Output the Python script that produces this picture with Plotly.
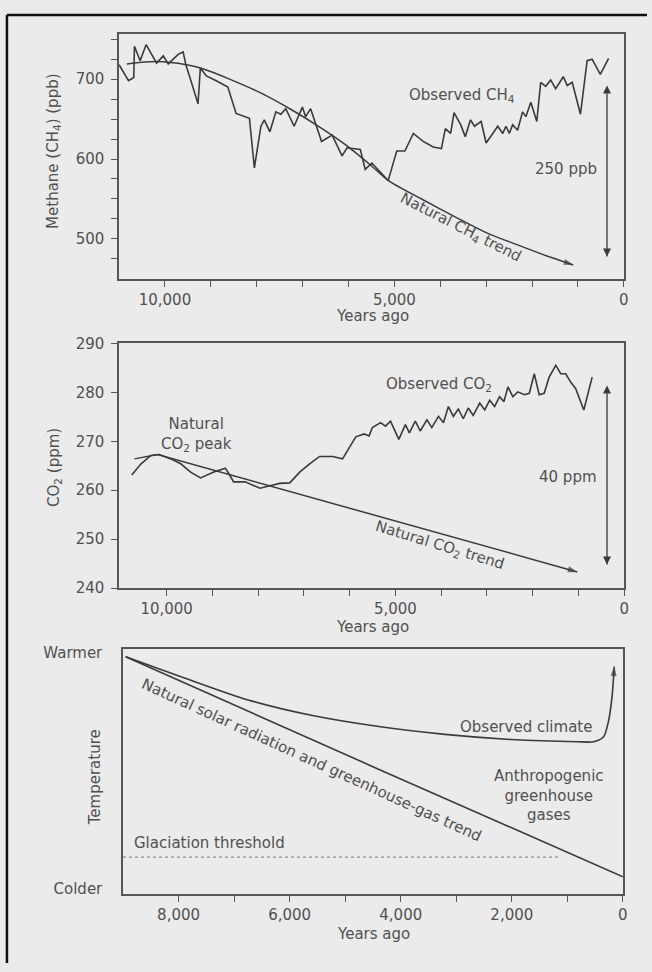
import plotly.graph_objects as go

W, H = 652, 972

# ---------------- data ----------------
# Methane (top panel): years ago / ppb
ch4_obs_years = [11000, 10795, 10680, 10665, 10541, 10411, 10182, 10037, 9929, 9712,
                 9604, 9545, 9424, 9280, 9229, 9099, 8883, 8630, 8450, 8160,
                 8052, 7909, 7835, 7714, 7584, 7476, 7368, 7186, 7006, 6935,
                 6826, 6588, 6357, 6141, 6032, 5744, 5636, 5491, 5136, 4950,
                 4771, 4589, 4373, 4156, 3976, 3890, 3775, 3701, 3557, 3457,
                 3342, 3255, 3110, 3002, 2857, 2749, 2640, 2569, 2497, 2424,
                 2316, 2208, 2136, 2028, 1898, 1812, 1703, 1595, 1487, 1415,
                 1320, 1234, 1126, 946, 801, 693, 513, 333]
ch4_obs_ppb = [718, 698, 702, 741, 723, 743, 720, 729, 719, 731,
               734, 718, 696, 669, 714, 704, 698, 690, 657, 651,
               589, 641, 649, 634, 659, 656, 663, 641, 665, 653,
               663, 622, 630, 604, 614, 612, 587, 595, 573, 610,
               610, 632, 622, 615, 613, 638, 632, 658, 643, 628,
               649, 641, 647, 620, 632, 641, 632, 641, 632, 643,
               636, 659, 653, 671, 647, 696, 691, 699, 688, 695,
               703, 692, 696, 656, 723, 725, 706, 726]
ch4_trend_years = [10830, 10182, 9532, 9208, 8593, 7872, 7223, 6645, 6069,
                   5491, 5130, 4409, 3688, 2965, 2244, 1595, 1104]
ch4_trend_ppb = [719, 722, 718, 713.5, 700, 681.5, 661, 640.5, 618,
                 591, 573, 550, 528, 507, 491, 477, 467.5]

# Carbon dioxide (middle panel): years ago / ppm
co2_obs_years = [10763, 10560, 10343, 10163, 9909, 9692, 9476, 9259, 8971, 8717,
                 8624, 8537, 8284, 7959, 7742, 7525, 7309, 7092, 6875, 6659,
                 6371, 6154, 6009, 5866, 5684, 5575, 5504, 5324, 5216, 5107,
                 4925, 4782, 4695, 4565, 4457, 4312, 4204, 4059, 3950, 3842,
                 3733, 3625, 3517, 3408, 3300, 3157, 3048, 2940, 2832, 2724,
                 2628, 2542, 2433, 2325, 2181, 2074, 1965, 1857, 1749, 1640,
                 1495, 1387, 1278, 1170, 1062, 882, 700]
co2_obs_ppm = [263.1, 265.4, 267.1, 267.3, 266.4, 265.4, 263.7, 262.5, 263.7, 264.5,
               263.1, 261.7, 261.7, 260.4, 260.9, 261.4, 261.5, 263.7, 265.4, 266.9,
               266.9, 266.4, 268.7, 270.9, 271.5, 271.1, 272.8, 273.8, 273.1, 274.1,
               270.4, 273.4, 271.7, 274.1, 272.1, 274.4, 272.8, 275.1, 273.8, 277.1,
               275.1, 276.6, 274.6, 276.8, 275.3, 277.8, 276.4, 278.4, 277.1, 279.1,
               278.1, 281.1, 279.1, 280.1, 279.5, 279.8, 283.8, 279.5, 279.8, 283.1,
               285.5, 283.8, 283.8, 282.1, 280.8, 276.4, 283.1]
co2_trend_years = [10704, 10199, 1025]
co2_trend_ppm = [266.4, 267.3, 243.3]

# Temperature (bottom panel): years ago / relative level (0 = colder, 100 = warmer)
temp_trend_years = [8953, 4400, 0]
temp_trend_level = [96.9, 51.0, 7.0]
temp_obs_years = [8953, 7970, 6780, 5588, 4396, 3206, 2014, 822, 525, 347, 257, 197, 155]
temp_obs_level = [96.9, 88.9, 79.5, 72.9, 68.4, 65.2, 63.1, 62.2, 62.2, 64.2, 70.8, 80.2, 92.9]
glaciation_years = [9000, 1150]
glaciation_level = [15.1, 15.1]

# scale bars: years ago, [low, high]
ch4_bar_year = 368
ch4_bar_span = [478, 692]
co2_bar_year = 375
co2_bar_span = [244.8, 281.4]

# ticks
ch4_major = [500, 600, 700]
ch4_major_labels = ["500", "600", "700"]
ch4_minor = [475, 525, 550, 575, 625, 650, 675, 725, 750]
co2_ticks = [240, 250, 260, 270, 280, 290]
co2_ticklabels = ["240", "250", "260", "270", "280", "290"]
years_major_long = [0, 5000, 10000]
years_major_long_labels = ["0", "5,000", "10,000"]
years_minor_long = [1000, 2000, 3000, 4000, 6000, 7000, 8000, 9000]
years_major_short = [0, 2000, 4000, 6000, 8000]
years_major_short_labels = ["0", "2,000", "4,000", "6,000", "8,000"]
years_minor_short = [1000, 3000, 5000, 7000]
temp_ticks = [2, 98.5]
temp_ticklabels = ["Colder", "Warmer"]

# ---------------- style ----------------
BG = "#ebebeb"
LINE = "#3a3a3a"
AX = "#555555"
TXT = "#505050"
FONT = "DejaVu Sans"
FS = 15


def px(x):
    return x / W


def py(y):
    return 1 - y / H


fig = go.Figure()


def line_trace(xs, ys, axis, width=1.6, shape="linear", smoothing=None, color=LINE,
               dash="solid", arrow_end=False):
    n = len(xs)
    tr = dict(x=xs, y=ys, xaxis="x" + axis, yaxis="y" + axis, hoverinfo="skip",
              line=dict(color=color, width=width, shape=shape, dash=dash))
    if smoothing is not None:
        tr["line"]["smoothing"] = smoothing
    if arrow_end:
        tr["mode"] = "lines+markers"
        tr["marker"] = dict(symbol="arrow", angleref="previous", color=color,
                            size=[0] * (n - 1) + [10], line=dict(width=0))
    else:
        tr["mode"] = "lines"
    fig.add_trace(go.Scatter(**tr))


def scale_bar(year, span, axis):
    fig.add_trace(go.Scatter(
        x=[year, year], y=span, mode="lines+markers", xaxis="x" + axis, yaxis="y" + axis,
        hoverinfo="skip", line=dict(color=LINE, width=1.3),
        marker=dict(symbol=["arrow-down", "arrow-up"], size=8, color=LINE, line=dict(width=0))))


# top panel
line_trace(ch4_trend_years, ch4_trend_ppb, "", width=1.5, shape="spline", smoothing=0.8, arrow_end=True)
line_trace(ch4_obs_years, ch4_obs_ppb, "")
scale_bar(ch4_bar_year, ch4_bar_span, "")
# middle panel
line_trace(co2_trend_years, co2_trend_ppm, "2", width=1.5, arrow_end=True)
line_trace(co2_obs_years, co2_obs_ppm, "2")
scale_bar(co2_bar_year, co2_bar_span, "2")
# bottom panel
line_trace(glaciation_years, glaciation_level, "3", width=1.3, color="#8a8a8a", dash="dot")
line_trace(temp_trend_years, temp_trend_level, "3", shape="spline", smoothing=0.6)
line_trace(temp_obs_years, temp_obs_level, "3", shape="spline", smoothing=0.7, arrow_end=True)

axis_common = dict(showline=True, linecolor=AX, linewidth=1.5, mirror=True,
                   ticks="outside", ticklen=6, tickwidth=1.3, tickcolor=AX,
                   showgrid=False, zeroline=False, fixedrange=True,
                   tickfont=dict(family=FONT, size=FS, color=TXT))


def minor(vals):
    return dict(tickvals=vals, ticks="outside", ticklen=6, tickwidth=1.3,
                tickcolor=AX, showgrid=False)


fig.update_layout(
    width=W, height=H, margin=dict(l=0, r=0, t=0, b=0),
    paper_bgcolor=BG, plot_bgcolor=BG, showlegend=False,
    font=dict(family=FONT, size=FS, color=TXT),
    xaxis=dict(axis_common, domain=[px(120), px(628.7)], range=[11000, 0],
               tickvals=years_major_long, ticktext=years_major_long_labels,
               minor=minor(years_minor_long), anchor="y"),
    yaxis=dict(axis_common, domain=[py(275), py(25)], range=[450, 757],
               tickvals=ch4_major, ticktext=ch4_major_labels,
               minor=minor(ch4_minor), anchor="x", ticklabelstandoff=4),
    xaxis2=dict(axis_common, domain=[px(120), px(629)], range=[11040, 0],
                tickvals=years_major_long, ticktext=years_major_long_labels,
                minor=minor(years_minor_long), anchor="y2"),
    yaxis2=dict(axis_common, domain=[py(590), py(340.7)], range=[240, 290],
                tickvals=co2_ticks, ticktext=co2_ticklabels, anchor="x2",
                ticklabelstandoff=4),
    xaxis3=dict(axis_common, domain=[px(124), px(627.7)], range=[9000, 0],
                tickvals=years_major_short, ticktext=years_major_short_labels,
                minor=minor(years_minor_short), anchor="y3"),
    yaxis3=dict(axis_common, domain=[py(901.7), py(652.3)], range=[0, 100],
                tickvals=temp_ticks, ticktext=temp_ticklabels, anchor="x3",
                ticks="", ticklabelstandoff=16),
)

ann = []


def label(text, x, y, xref, yref, angle=0, size=FS, xanchor="center", yanchor="middle", align="center"):
    ann.append(dict(text=text, x=x, y=y, xref=xref, yref=yref, showarrow=False,
                    textangle=angle, xanchor=xanchor, yanchor=yanchor, align=align,
                    font=dict(family=FONT, size=size, color=TXT)))


# axis titles
label("Methane (CH<sub>4</sub>) (ppb)", px(54), py(145), "paper", "paper", angle=-90)
label("CO<sub>2</sub> (ppm)", px(55), py(467), "paper", "paper", angle=-90)
label("Temperature", px(95.5), py(783), "paper", "paper", angle=-90)
label("Years ago", px(375), py(313), "paper", "paper")
label("Years ago", px(375), py(630), "paper", "paper")
label("Years ago", px(376), py(942), "paper", "paper")

# top panel labels
label("Observed CH<sub>4</sub>", 3522, 680, "x", "y")
label("250 ppb", 1270, 587, "x", "y")
label("Natural CH<sub>4</sub> trend", 3560, 514, "x", "y", angle=27)
# middle panel labels
label("Natural<br>CO<sub>2</sub> peak", 9350, 271.3, "x2", "y2")
label("Observed CO<sub>2</sub>", 4058, 281.6, "x2", "y2")
label("40 ppm", 1224, 262.7, "x2", "y2")
label("Natural CO<sub>2</sub> trend", 4024, 248.8, "x2", "y2", angle=17)
# bottom panel labels
label("Glaciation threshold", 8840, 20.7, "x3", "y3", xanchor="left")
label("Observed climate", 1746, 68.4, "x3", "y3")
label("Anthropogenic<br>greenhouse<br>gases", 1330, 40.4, "x3", "y3")
label("Natural solar radiation and greenhouse-gas trend", 5606, 54.8, "x3", "y3", angle=24.5)

fig.update_layout(annotations=ann)

# photo frame edges (left and top)
fig.add_shape(type="line", xref="paper", yref="paper", x0=px(7), x1=px(7), y0=0, y1=py(6),
              line=dict(color="#111111", width=2.5))
fig.add_shape(type="line", xref="paper", yref="paper", x0=px(7), x1=1, y0=py(6), y1=py(6),
              line=dict(color="#111111", width=2.5))

fig.write_html("out.html")
